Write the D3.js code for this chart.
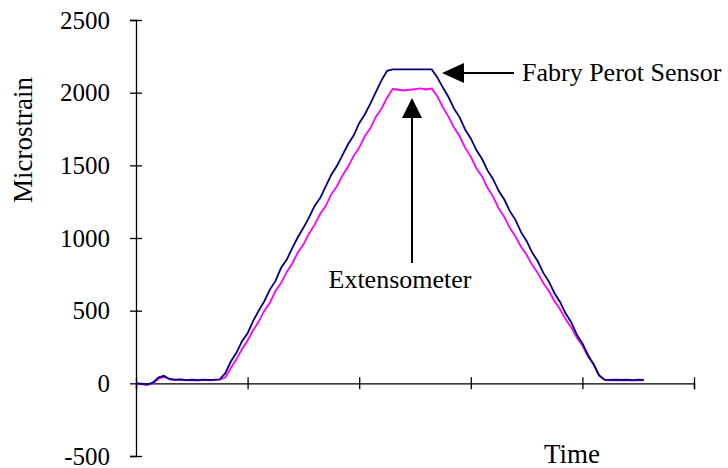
<!DOCTYPE html>
<html>
<head>
<meta charset="utf-8">
<script src="https://cdn.jsdelivr.net/npm/d3@7"></script>
<style>
  html, body { margin: 0; padding: 0; background: #ffffff; }
  svg text { font-family: 'Liberation Serif', 'Times New Roman', serif; fill: #000; }
</style>
</head>
<body>
<div id="chart"></div>
<script>
// time axis (arbitrary units, ticks unlabelled)
const times = d3.range(0, 92).map(i => +(i * 0.05).toFixed(2));

// Fabry Perot sensor reading (microstrain)
const fabryPerot = [
  0, -3, -8, 5, 40, 52, 30, 25, 27, 22, 25, 22, 26, 24, 25, 27,
  70, 150, 210, 290, 345, 430, 500, 565, 645, 705, 795, 850, 930, 1005,
  1070, 1140, 1220, 1275, 1355, 1435, 1495, 1570, 1645, 1705, 1790, 1850, 1925, 2005,
  2085, 2150, 2160, 2160, 2160, 2160, 2160, 2160, 2160, 2160,
  2105, 2035, 1970, 1890, 1830, 1745, 1685, 1605, 1545, 1465, 1405, 1325, 1265, 1185,
  1125, 1040, 980, 900, 840, 760, 700, 620, 560, 480, 420, 335, 275, 195, 130, 55,
  25, 24, 26, 23, 25, 22, 25, 24
];

// Extensometer reading (microstrain)
const extensometer = [
  0, -5, -10, 0, 30, 45, 28, 22, 25, 20, 22, 18, 24, 20, 22, 25,
  40, 105, 165, 235, 295, 365, 425, 500, 555, 635, 690, 765, 825, 900,
  955, 1030, 1090, 1165, 1220, 1300, 1355, 1430, 1490, 1565, 1620, 1700, 1755, 1835,
  1890, 1965, 2025, 2020, 2015, 2020, 2025, 2030, 2022, 2028,
  1975, 1900, 1835, 1760, 1700, 1620, 1560, 1480, 1425, 1345, 1285, 1205, 1145, 1070,
  1010, 940, 885, 815, 760, 690, 635, 565, 510, 440, 385, 315, 260, 185, 135, 55,
  22, 20, 23, 20, 22, 19, 22, 21
];

const yTicks = [-500, 0, 500, 1000, 1500, 2000, 2500];
const xTicks = [0, 1, 2, 3, 4, 5];

const W = 728, H = 468;
const serif = "'Liberation Serif', 'Times New Roman', serif";
const svg = d3.select("#chart").append("svg")
  .attr("width", W).attr("height", H);

const x = d3.scaleLinear().domain([0, 5]).range([136, 694]);
const y = d3.scaleLinear().domain([-500, 2500]).range([456, 20]);

// y axis
const yAxis = svg.append("g")
  .attr("transform", `translate(${x(0)},0)`)
  .call(d3.axisLeft(y).tickValues(yTicks).tickSize(6).tickPadding(20)
    .tickFormat(d => String(d)));
yAxis.attr("font-family", serif).attr("font-size", 25);
yAxis.select(".domain").attr("stroke", "#000").attr("stroke-width", 1.3);
yAxis.selectAll(".tick line").attr("x1", 6).attr("x2", -6).attr("stroke", "#000").attr("stroke-width", 1.3);
yAxis.selectAll(".tick text").attr("dy", "0.32em").attr("x", -26);

// x axis at zero
const xAxis = svg.append("g")
  .attr("transform", `translate(0,${y(0)})`)
  .call(d3.axisBottom(x).tickValues(xTicks).tickSize(6).tickFormat(""));
xAxis.select(".domain").attr("stroke", "#000").attr("stroke-width", 1.3);
xAxis.selectAll(".tick line").attr("y1", -6).attr("y2", 6).attr("stroke", "#000").attr("stroke-width", 1.3);

// axis titles
svg.append("text")
  .attr("transform", "translate(32,140) rotate(-90)")
  .attr("text-anchor", "middle")
  .style("font-size", "27px")
  .text("Microstrain");

svg.append("text")
  .attr("x", 572).attr("y", 463)
  .attr("text-anchor", "middle")
  .style("font-size", "27px")
  .text("Time");

// lines
const line = d3.line()
  .x((d, i) => x(times[i]))
  .y(d => y(d));

svg.append("path")
  .datum(extensometer)
  .attr("fill", "none")
  .attr("stroke", "#ff00ff")
  .attr("stroke-width", 1.8)
  .attr("d", line);

svg.append("path")
  .datum(fabryPerot)
  .attr("fill", "none")
  .attr("stroke", "#000080")
  .attr("stroke-width", 1.8)
  .attr("d", line);

// annotations
svg.append("line")
  .attr("x1", 462).attr("y1", 73).attr("x2", 514).attr("y2", 73)
  .attr("stroke", "#000").attr("stroke-width", 2);
svg.append("path")
  .attr("d", "M442,73 L464,63 L464,83 Z")
  .attr("fill", "#000");
svg.append("text")
  .attr("x", 522).attr("y", 81)
  .style("font-size", "26px")
  .text("Fabry Perot Sensor");

svg.append("line")
  .attr("x1", 412).attr("y1", 116).attr("x2", 412).attr("y2", 263)
  .attr("stroke", "#000").attr("stroke-width", 2);
svg.append("path")
  .attr("d", "M412,98 L402,118 L422,118 Z")
  .attr("fill", "#000");
svg.append("text")
  .attr("x", 400).attr("y", 288)
  .attr("text-anchor", "middle")
  .style("font-size", "26px")
  .text("Extensometer");
</script>
</body>
</html>
